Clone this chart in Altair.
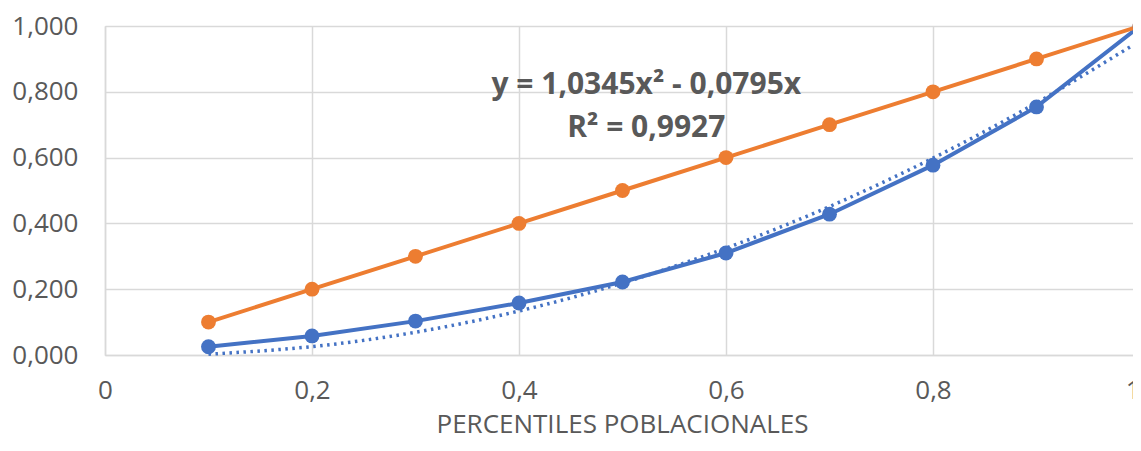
import altair as alt
import pandas as pd

# Data
percentiles = [0.1, 0.2, 0.3, 0.4, 0.5, 0.6, 0.7, 0.8, 0.9, 1.0]
income_share = [0.025, 0.058, 0.103, 0.158, 0.222, 0.310, 0.428, 0.577, 0.754, 1.000]
equality = [0.1, 0.2, 0.3, 0.4, 0.5, 0.6, 0.7, 0.8, 0.9, 1.0]
trend_a = 1.0345
trend_b = -0.0795
annotation = ["y = 1,0345x\u00b2 - 0,0795x", "R\u00b2 = 0,9927"]
annotation_y = [0.82, 0.69]

BLUE = "#4472C4"
ORANGE = "#ED7D31"
GRID = "#D9D9D9"
TXT = "#595959"
FONT = "Open Sans"

df = pd.DataFrame({"x": percentiles, "blue": income_share, "orange": equality})

x_enc = alt.X(
    "x:Q",
    scale=alt.Scale(domain=[0, 1], nice=False, zero=True, range=[0, 1035]),
    axis=alt.Axis(
        values=[0, 0.2, 0.4, 0.6, 0.8, 1.0],
        labelExpr="replace(format(datum.value, '.1~f'), '.', ',')",
        labelAlign={"condition": {"test": "datum.value == 1", "value": "right"}, "value": "center"},
        title="PERCENTILES POBLACIONALES",
        grid=True,
        gridColor=GRID,
        gridWidth=1.5,
        domainColor=GRID,
        domainWidth=1.5,
        ticks=False,
        labelFont=FONT,
        labelFontSize=26,
        labelColor=TXT,
        labelPadding=22,
        titleFont=FONT,
        titleFontSize=26,
        titleFontWeight="normal",
        titleColor=TXT,
        titlePadding=8,
        titleX=517,
        titleAnchor="middle",
        labelFlush=False,
        labelBound=False,
    ),
)

y_scale = alt.Scale(domain=[0, 1], nice=False)
y_axis = alt.Axis(
    values=[0, 0.2, 0.4, 0.6, 0.8, 1.0],
    labelExpr="replace(format(datum.value, '.3f'), '.', ',')",
    title=None,
    grid=True,
    gridColor=GRID,
    gridWidth=1.5,
    domainColor=GRID,
    domainWidth=1.5,
    ticks=False,
    labelFont=FONT,
    labelFontSize=26,
    labelColor=TXT,
    labelPadding=27,
)

base = alt.Chart(df)

trend = base.transform_calculate(
    trend=f"{trend_a} * datum.x * datum.x + ({trend_b}) * datum.x"
).mark_line(
    color=BLUE, strokeWidth=3.5, strokeDash=[2.5, 4.5], interpolate="natural"
).encode(x=x_enc, y=alt.Y("trend:Q", scale=y_scale, axis=y_axis))

blue_line = base.mark_line(color=BLUE, strokeWidth=4).encode(
    x=x_enc, y=alt.Y("blue:Q", scale=y_scale, axis=y_axis)
)
blue_pts = base.mark_circle(color=BLUE, size=220, opacity=1).encode(
    x=x_enc, y=alt.Y("blue:Q", scale=y_scale, axis=y_axis)
)
orange_line = base.mark_line(color=ORANGE, strokeWidth=4).encode(
    x=x_enc, y=alt.Y("orange:Q", scale=y_scale, axis=y_axis)
)
orange_pts = base.mark_circle(color=ORANGE, size=220, opacity=1).encode(
    x=x_enc, y=alt.Y("orange:Q", scale=y_scale, axis=y_axis)
)

ann_df = pd.DataFrame({"label": annotation, "yy": annotation_y})
ann = alt.Chart(ann_df).mark_text(
    font=FONT, fontSize=30, fontWeight="bold", color=TXT, align="center", baseline="middle"
).encode(
    x=alt.datum(0.523),
    y=alt.Y("yy:Q", scale=y_scale, axis=y_axis),
    text="label:N",
)

chart = alt.layer(
    trend, blue_line, orange_line, blue_pts, orange_pts, ann
).properties(
    width=1028,
    height=329,
    autosize=alt.AutoSizeParams(type="none"),
    padding={"left": 97, "top": 18, "right": 0, "bottom": 88},
).configure_view(stroke=None).configure(background="white")

chart.save("out.html", embed_options={"renderer": "svg", "actions": False})
